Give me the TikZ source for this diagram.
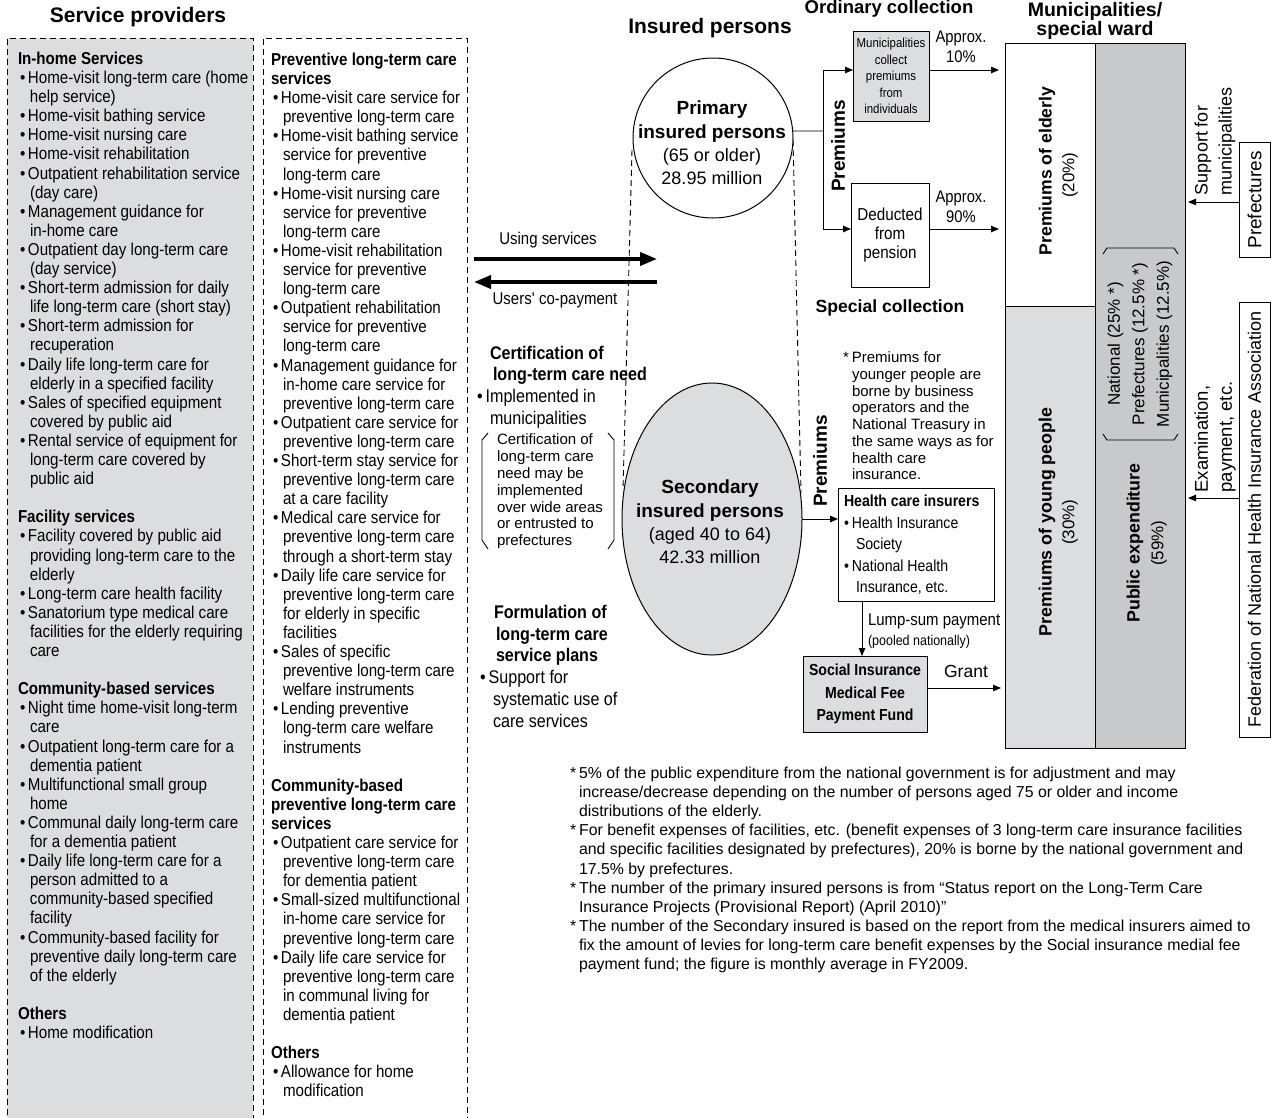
\documentclass[tikz,border=0pt]{standalone}
\usepackage{fontspec}
\setmainfont{Liberation Sans}
\newfontfamily\nar{Liberation Sans}[FakeStretch=0.88]
\usetikzlibrary{arrows.meta,shapes.geometric}
\definecolor{lg}{HTML}{DCDDDE}
\definecolor{dg}{HTML}{C8C9CA}
\newcommand\fs[2]{\fontsize{#1}{#2}\selectfont}
\newcommand\bu{\hspace*{2pt}\makebox[8pt][l]{•}}
\newcommand\ct{\hspace*{12pt}}
\begin{document}
\begin{tikzpicture}[x=1pt,y=-1pt,
  every node/.style={inner sep=0pt,outer sep=0pt},
  arr/.style={-{Triangle[length=8pt,width=6.5pt]},line width=0.9pt},
  bigarr/.style={-{Triangle[length=17pt,width=13pt]},line width=3.6pt},
  dsh/.style={dash pattern=on 6pt off 4pt,line width=0.9pt},
  frame/.style={draw,line width=1pt},
  list/.style={anchor=north west,align=left},
  vt/.style={rotate=90}]
\useasboundingbox (0,0) rectangle (1276,1117);

% ---------- service provider panels ----------
\fill[lg] (7,38) rectangle (253,1125);
\draw[dsh] (7,1125) -- (7,38) -- (253,38) -- (253,1125);
\draw[dsh] (263,1125) -- (263,38) -- (467,38) -- (467,1125);
\node[font=\bfseries\fs{21}{24}] (sptitle) at (138,17) {Service providers};

\node[list,font=\nar\fs{17.2}{19.1}] (colA) at (18,52) {%
\textbf{In-home Services}\\
\bu Home-visit long-term care (home\\
\ct help service)\\
\bu Home-visit bathing service\\
\bu Home-visit nursing care\\
\bu Home-visit rehabilitation\\
\bu Outpatient rehabilitation service\\
\ct (day care)\\
\bu Management guidance for\\
\ct in-home care\\
\bu Outpatient day long-term care\\
\ct (day service)\\
\bu Short-term admission for daily\\
\ct life long-term care (short stay)\\
\bu Short-term admission for\\
\ct recuperation\\
\bu Daily life long-term care for\\
\ct elderly in a specified facility\\
\bu Sales of specified equipment\\
\ct covered by public aid\\
\bu Rental service of equipment for\\
\ct long-term care covered by\\
\ct public aid\\[19.1pt]
\textbf{Facility services}\\
\bu Facility covered by public aid\\
\ct providing long-term care to the\\
\ct elderly\\
\bu Long-term care health facility\\
\bu Sanatorium type medical care\\
\ct facilities for the elderly requiring\\
\ct care\\[19.1pt]
\textbf{Community-based services}\\
\bu Night time home-visit long-term\\
\ct care\\
\bu Outpatient long-term care for a\\
\ct dementia patient\\
\bu Multifunctional small group\\
\ct home\\
\bu Communal daily long-term care\\
\ct for a dementia patient\\
\bu Daily life long-term care for a\\
\ct person admitted to a\\
\ct community-based specified\\
\ct facility\\
\bu Community-based facility for\\
\ct preventive daily long-term care\\
\ct of the elderly\\[19.1pt]
\textbf{Others}\\
\bu Home modification};

\node[list,font=\nar\fs{17.2}{19.1}] (colB) at (271,53) {%
\textbf{Preventive long-term care}\\
\textbf{services}\\
\bu Home-visit care service for\\
\ct preventive long-term care\\
\bu Home-visit bathing service\\
\ct service for preventive\\
\ct long-term care\\
\bu Home-visit nursing care\\
\ct service for preventive\\
\ct long-term care\\
\bu Home-visit rehabilitation\\
\ct service for preventive\\
\ct long-term care\\
\bu Outpatient rehabilitation\\
\ct service for preventive\\
\ct long-term care\\
\bu Management guidance for\\
\ct in-home care service for\\
\ct preventive long-term care\\
\bu Outpatient care service for\\
\ct preventive long-term care\\
\bu Short-term stay service for\\
\ct preventive long-term care\\
\ct at a care facility\\
\bu Medical care service for\\
\ct preventive long-term care\\
\ct through a short-term stay\\
\bu Daily life care service for\\
\ct preventive long-term care\\
\ct for elderly in specific\\
\ct facilities\\
\bu Sales of specific\\
\ct preventive long-term care\\
\ct welfare instruments\\
\bu Lending preventive\\
\ct long-term care welfare\\
\ct instruments\\[19.1pt]
\textbf{Community-based}\\
\textbf{preventive long-term care}\\
\textbf{services}\\
\bu Outpatient care service for\\
\ct preventive long-term care\\
\ct for dementia patient\\
\bu Small-sized multifunctional\\
\ct in-home care service for\\
\ct preventive long-term care\\
\bu Daily life care service for\\
\ct preventive long-term care\\
\ct in communal living for\\
\ct dementia patient\\[19.1pt]
\textbf{Others}\\
\bu Allowance for home\\
\ct modification};

% ---------- insured persons ----------
\node[font=\bfseries\fs{21}{24}] (iptitle) at (710,28) {Insured persons};
\draw[dsh] (632,150) -- (623,490);
\draw[dsh] (793,140) -- (801,493);
\node[circle,draw,fill=white,line width=1pt,minimum size=160pt] (prim) at (713,138) {};
\node[align=center,font=\fs{18}{23.3}] (primt) at (712,143)
  {\textbf{\fs{19}{23.3}Primary}\\\textbf{\fs{19}{23.3}insured persons}\\(65 or older)\\28.95 million};
\node[ellipse,draw,fill=lg,line width=1pt,minimum width=180pt,minimum height=272pt] (sec) at (712,519) {};
\node[align=center,font=\fs{18}{23.3}] (sect) at (710,522)
  {\textbf{\fs{19}{23.3}Secondary}\\\textbf{\fs{19}{23.3}insured persons}\\(aged 40 to 64)\\42.33 million};

% service arrows
\coordinate (us0) at (474,259);
\coordinate (us1) at (657,259);
\coordinate (cp0) at (657,282);
\coordinate (cp1) at (474,282);
\draw[bigarr] (us0) -- (us1);
\draw[bigarr] (cp0) -- (cp1);
\node[font=\nar\fs{17}{20}] (uslab) at (548,240) {Using services};
\node[font=\nar\fs{17}{20}] (cplab) at (555,300) {Users\textquotesingle{} co-payment};

% certification
\node[list,font=\nar\fs{18.3}{21.7}] (cert) at (477,346) {%
\hspace*{13pt}\textbf{Certification of}\\
\hspace*{16pt}\textbf{long-term care need}\\
•\hspace*{3pt}Implemented in\\
\hspace*{13pt}municipalities};
\node[list,font=\fs{15}{16.8}] (certn) at (497,434) {%
Certification of\\long-term care\\need may be\\implemented\\over wide areas\\or entrusted to\\prefectures};
\draw[line width=0.9pt] (488,433) -- (482,440) -- (482,540) -- (488,549);
\draw[line width=0.9pt] (608,433) -- (614,440) -- (614,540) -- (608,549);

% formulation
\node[list,font=\nar\fs{18.3}{21.8}] (form) at (480,605) {%
\hspace*{14pt}\textbf{Formulation of}\\
\hspace*{16pt}\textbf{long-term care}\\
\hspace*{16pt}\textbf{service plans}\\
•\hspace*{3pt}Support for\\
\hspace*{13pt}systematic use of\\
\hspace*{13pt}care services};

% ---------- collection ----------
\node[font=\bfseries\fs{18.5}{22}] (octitle) at (889,9) {Ordinary collection};
\node[font=\bfseries\fs{17.6}{22}] (sctitle) at (890,308) {Special collection};
\node[frame,fill=lg,minimum width=76pt,minimum height=90pt,align=center,font=\nar\fs{13}{16.5}] (mcol) at (891,76)
  {Municipalities\\collect\\premiums\\from\\individuals};
\node[frame,fill=white,minimum width=78pt,minimum height=104pt,align=center,font=\nar\fs{17.3}{18.7}] (ded) at (890,235)
  {Deducted\\from\\pension};
\node[align=center,font=\nar\fs{16.8}{20}] (a10) at (961,47) {Approx.\\10\%};
\node[align=center,font=\nar\fs{16.8}{20}] (a90) at (961,207) {Approx.\\90\%};
\node[vt,font=\bfseries\fs{19}{20}] (prem1) at (838,146) {Premiums};
\node[vt,font=\bfseries\fs{19}{20}] (prem2) at (820,461) {Premiums};

\coordinate (pj) at (823,131);
\draw[line width=0.9pt] (prim.5) -- (pj);
\draw[arr] (pj) |- (mcol.west |- 0,70);
\draw[arr] (pj) |- (ded.west |- 0,229);

% ---------- municipality bar ----------
\node[font=\bfseries\fs{19.5}{19.5},align=center] (muntitle) at (1095,21) {Municipalities/\\special ward};
\node[frame,fill=white,minimum width=90pt,minimum height=263pt,anchor=north west] (eld) at (1005,43) {};
\node[frame,fill=lg,minimum width=90pt,minimum height=442pt,anchor=north west] (yng) at (1005,306) {};
\node[frame,fill=dg,minimum width=90pt,minimum height=705pt,anchor=north west] (pub) at (1095,43) {};

\draw[arr,shorten >=6pt] (mcol.east |- 0,70) -- (eld.west |- 0,70);
\draw[arr,shorten >=6pt] (ded.east |- 0,229) -- (eld.west |- 0,229);

\node[vt,font=\bfseries\fs{17.6}{20}] (eldt) at (1047,171) {Premiums of elderly};
\node[vt,font=\fs{17}{20}] (eldp) at (1070,175) {(20\%)};
\node[vt,font=\bfseries\fs{17.8}{20}] (yngt) at (1047,522) {Premiums of young people};
\node[vt,font=\fs{17}{20}] (yngp) at (1070,522) {(30\%)};
\node[vt,font=\bfseries\fs{17.8}{20}] (pubt) at (1135,543) {Public expenditure};
\node[vt,font=\fs{17}{20}] (pubp) at (1159,543) {(59\%)};
\node[vt,align=center,font=\fs{17}{24.5}] (natl) at (1140,344)
  {National (25\% *)\\Prefectures (12.5\% *)\\Municipalities (12.5\%)};
\draw[line width=0.9pt] (1103,254) -- (1107,248) -- (1174,248) -- (1178,254);
\draw[line width=0.9pt] (1103,434) -- (1107,440) -- (1174,440) -- (1178,434);

% ---------- prefectures / federation ----------
\node[frame,vt,minimum width=115pt,minimum height=31pt,font=\fs{19}{20}] (pref) at (1254.5,200) {Prefectures};
\node[vt,align=left,font=\fs{18}{24}] (supp) at (1215,141) {Support for\\municipalities};
\draw[arr,shorten >=3pt] (pref.north |- 0,202) -- (pub.east |- 0,202);

\node[frame,vt,minimum width=435pt,minimum height=31pt,font=\fs{18}{20}] (fed) at (1254.5,519.5)
  {Federation of National Health Insurance Association};
\node[vt,align=left,font=\fs{18.5}{24}] (exam) at (1215,437) {Examination,\\payment, etc.};
\draw[arr,shorten >=3pt] (fed.north |- 0,498) -- (pub.east |- 0,498);

% ---------- special collection ----------
\node[list,font=\fs{15}{16.7}] (ynote) at (843,352) {%
*\hspace*{3pt}Premiums for\\
\hspace*{9pt}younger people are\\
\hspace*{9pt}borne by business\\
\hspace*{9pt}operators and the\\
\hspace*{9pt}National Treasury in\\
\hspace*{9pt}the same ways as for\\
\hspace*{9pt}health care\\
\hspace*{9pt}insurance.};

\node[frame,minimum width=156pt,minimum height=113pt,anchor=north west] (hci) at (838,488) {};
\node[list,font=\nar\fs{16}{21.5}] (hcit) at (844,495) {%
\textbf{Health care insurers}\\
•\hspace*{3pt}Health Insurance\\
\hspace*{12pt}Society\\
•\hspace*{3pt}National Health\\
\hspace*{12pt}Insurance, etc.};
\draw[arr] (sec.east) -- (hci.west |- sec.east);

\node[frame,fill=lg,minimum width=124pt,minimum height=76pt,align=center,font=\nar\bfseries\fs{16}{22.5}] (sim) at (865,694)
  {Social Insurance\\Medical Fee\\Payment Fund};
\draw[arr] (hci.south -| 862,0) -- (sim.north -| 862,0);
\node[anchor=west,font=\nar\fs{17}{20}] (lump) at (868,621) {Lump-sum payment};
\node[anchor=west,font=\nar\fs{14.2}{16}] (pool) at (868,642) {(pooled nationally)};
\draw[arr,shorten >=4pt] (sim.east |- 0,688) -- (yng.west |- 0,688);
\node[font=\fs{17.5}{20}] (grant) at (966,671) {Grant};

% ---------- footnotes ----------
\node[list,font=\fs{15.85}{19.1}] (fn) at (570,767) {%
*\hspace*{3pt}5\% of the public expenditure from the national government is for adjustment and may\\
\hspace*{9pt}increase/decrease depending on the number of persons aged 75 or older and income\\
\hspace*{9pt}distributions of the elderly.\\
*\hspace*{3pt}For benefit expenses of facilities, etc. (benefit expenses of 3 long-term care insurance facilities\\
\hspace*{9pt}and specific facilities designated by prefectures), 20\% is borne by the national government and\\
\hspace*{9pt}17.5\% by prefectures.\\
*\hspace*{3pt}The number of the primary insured persons is from “Status report on the Long-Term Care\\
\hspace*{9pt}Insurance Projects (Provisional Report) (April 2010)”\\
*\hspace*{3pt}The number of the Secondary insured is based on the report from the medical insurers aimed to\\
\hspace*{9pt}fix the amount of levies for long-term care benefit expenses by the Social insurance medial fee\\
\hspace*{9pt}payment fund; the figure is monthly average in FY2009.};
\end{tikzpicture}
\end{document}
